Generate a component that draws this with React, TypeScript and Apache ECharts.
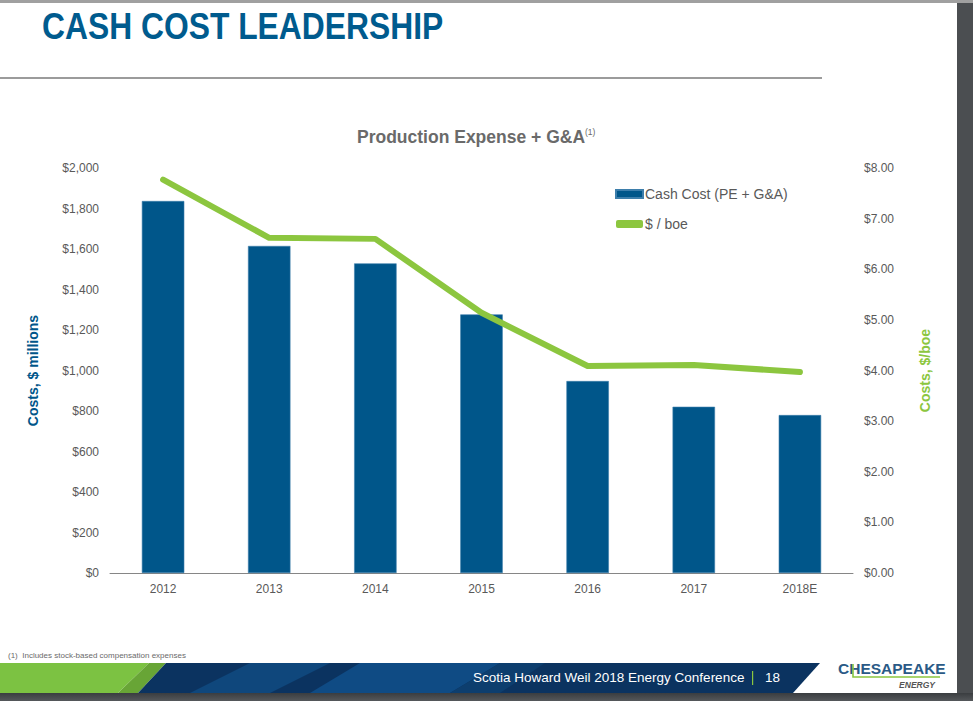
import React, { useEffect, useRef } from "react";
import * as echarts from "echarts";

const categories = ["2012", "2013", "2014", "2015", "2016", "2017", "2018E"];
const cashCost = [1837, 1615, 1529, 1277, 948, 821, 780];
const perBoe = [7.77, 6.62, 6.6, 5.14, 4.09, 4.11, 3.97];
const leftTicks = { min: 0, max: 2000, interval: 200 };
const rightTicks = { min: 0, max: 8, interval: 1 };

const FONT = '"Liberation Sans", Arial, sans-serif';
const BLUE = "#00568a";
const GREEN = "#8cc63f";
const GRAY = "#595959";

export default function App() {
  const ref = useRef<HTMLDivElement>(null);
  useEffect(() => {
    document.body.style.margin = "0";
    const chart = echarts.init(ref.current!, undefined, { renderer: "svg" });
    chart.setOption({
      animation: false,
      backgroundColor: "#ffffff",
      textStyle: { fontFamily: FONT },
      title: {
        text: "Production Expense + G&A{sup|(1)}",
        left: 352,
        top: 122,
        textStyle: {
          fontFamily: FONT,
          fontSize: 17.5,
          fontWeight: "bold",
          color: "#6a6a6a",
          rich: {
            sup: { fontSize: 8.5, fontWeight: "normal", color: "#6a6a6a", verticalAlign: "top", padding: [0, 0, 10, 0] },
          },
        },
      },
      legend: {
        orient: "vertical",
        left: 610,
        top: 182,
        itemWidth: 27,
        itemHeight: 8,
        itemGap: 16,
        textStyle: { fontFamily: FONT, fontSize: 14, color: GRAY, padding: [0, 0, 0, -3] },
        data: [
          { name: "Cash Cost (PE + G&A)", icon: "rect" },
          { name: "$ / boe", icon: "roundRect" },
        ],
      },
      grid: { left: 110, right: 120, top: 168, bottom: 128, containLabel: false },
      xAxis: {
        type: "category",
        data: categories,
        axisLine: { lineStyle: { color: "#868686", width: 1 } },
        axisTick: { show: false },
        axisLabel: { color: GRAY, fontSize: 12, margin: 10, fontFamily: FONT },
      },
      yAxis: [
        {
          type: "value",
          ...leftTicks,
          splitLine: { show: false },
          axisLine: { show: false },
          axisTick: { show: false },
          axisLabel: {
            color: GRAY,
            fontSize: 12,
            margin: 11,
            fontFamily: FONT,
            formatter: (v: number) => "$" + v.toLocaleString("en-US"),
          },
          name: "Costs, $ millions",
          nameLocation: "middle",
          nameRotate: 90,
          nameGap: 70,
          nameTextStyle: { color: BLUE, fontSize: 14, fontWeight: "bold", fontFamily: FONT },
        },
        {
          type: "value",
          ...rightTicks,
          position: "right",
          splitLine: { show: false },
          axisLine: { show: false },
          axisTick: { show: false },
          axisLabel: {
            color: GRAY,
            fontSize: 12,
            margin: 11,
            fontFamily: FONT,
            formatter: (v: number) => "$" + v.toFixed(2),
          },
          name: "Costs, $/boe",
          nameLocation: "middle",
          nameRotate: 90,
          nameGap: 65,
          nameTextStyle: { color: GREEN, fontSize: 14, fontWeight: "bold", fontFamily: FONT },
        },
      ],
      series: [
        {
          name: "Cash Cost (PE + G&A)",
          type: "bar",
          data: cashCost,
          barWidth: "40%",
          itemStyle: { color: BLUE, borderColor: "#3d7eab", borderWidth: 0.6 },
        },
        {
          name: "$ / boe",
          type: "line",
          yAxisIndex: 1,
          data: perBoe,
          symbol: "none",
          lineStyle: { color: GREEN, width: 6, cap: "round", join: "round" },
          itemStyle: { color: GREEN },
        },
      ],
      graphic: [
        { type: "rect", shape: { x: 0, y: 0, width: 973, height: 3 }, style: { fill: "#a0a0a0" }, z: 1 },
        {
          type: "text",
          x: 42,
          y: 8,
          scaleX: 0.86,
          style: {
            text: "CASH COST LEADERSHIP",
            fontFamily: FONT,
            fontSize: 37,
            fontWeight: "bold",
            fill: "#005b8e",
          },
        },
        { type: "line", shape: { x1: 0, y1: 78, x2: 822, y2: 78 }, style: { stroke: "#7a7a7a", lineWidth: 1.5 } },
        {
          type: "text",
          left: 8,
          top: 651,
          style: { text: "(1)  Includes stock-based compensation expenses", fontFamily: FONT, fontSize: 8, fill: "#6a6a6a" },
        },
        // footer band
        { type: "polygon", shape: { points: [[0, 663], [149, 663], [118, 693], [0, 693]] }, style: { fill: "#7cc242" } },
        { type: "polygon", shape: { points: [[149, 663], [166, 663], [138, 693], [118, 693]] }, style: { fill: "#68a536" } },
        { type: "polygon", shape: { points: [[166, 663], [820, 663], [793, 693], [138, 693]] }, style: { fill: "#0b3360" } },
        { type: "polygon", shape: { points: [[250, 663], [330, 663], [270, 693], [190, 693]] }, style: { fill: "#0f477c" } },
        { type: "polygon", shape: { points: [[360, 663], [500, 663], [450, 693], [310, 693]] }, style: { fill: "#0f4b84" } },
        { type: "polygon", shape: { points: [[500, 663], [545, 663], [500, 693], [450, 693]] }, style: { fill: "#0d3e6e" } },
        {
          type: "text",
          left: 473,
          top: 670,
          style: { text: "Scotia Howard Weil 2018 Energy Conference", fontFamily: FONT, fontSize: 13.5, fill: "#ffffff" },
        },
        { type: "rect", shape: { x: 752, y: 671, width: 1.2, height: 14 }, style: { fill: GREEN } },
        { type: "text", left: 765, top: 670, style: { text: "18", fontFamily: FONT, fontSize: 13.5, fill: "#ffffff" } },
        // logo
        {
          type: "text",
          left: 838,
          top: 660,
          style: { text: "CHESAPEAKE", fontFamily: FONT, fontSize: 15.5, fontWeight: "bold", fill: "#2a5a86" },
        },
        { type: "polyline", shape: { points: [[853, 664], [853, 677], [940, 677]] }, style: { stroke: GREEN, lineWidth: 1.6, fill: "none" } },
        {
          type: "text",
          right: 38,
          top: 680,
          style: { text: "ENERGY", fontFamily: FONT, fontSize: 8.5, fontWeight: "bold", fontStyle: "italic", fill: "#555555" },
        },
        // outer dark frame
        { type: "rect", shape: { x: 957, y: 0, width: 16, height: 701 }, style: { fill: "#4b4e51" } },
        {
          type: "rect",
          shape: { x: 0, y: 693, width: 973, height: 8 },
          style: {
            fill: new echarts.graphic.LinearGradient(0, 0, 0, 1, [
              { offset: 0, color: "#3a3d40" },
              { offset: 1, color: "#55585b" },
            ]),
          },
        },
      ],
    });
    return () => chart.dispose();
  }, []);
  return <div ref={ref} style={{ position: "absolute", left: 0, top: 0, width: 973, height: 701 }} />;
}
